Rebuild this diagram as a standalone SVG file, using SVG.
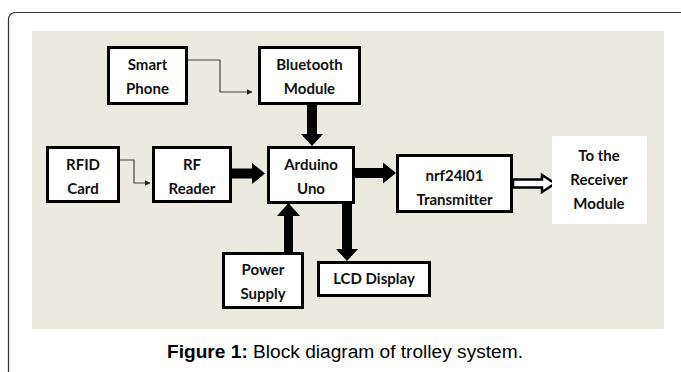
<svg xmlns="http://www.w3.org/2000/svg" width="681" height="372" viewBox="0 0 681 372">
<style>
.box{fill:#fff;stroke:#000;stroke-width:3}
.t{font-family:Lato,"Open Sans","Liberation Sans",sans-serif;font-weight:bold;font-size:15px;fill:#111;text-anchor:middle}
.thin{fill:none;stroke:#444;stroke-width:1.2}
.thick{fill:#000;stroke:none}
.cap{font-family:"Liberation Sans",Arial,sans-serif;font-size:18px;fill:#000;text-anchor:middle}
</style>
<defs>
<marker id="ah" viewBox="0 0 10 10" refX="9" refY="5" markerWidth="6" markerHeight="6" orient="auto" markerUnits="userSpaceOnUse">
<path d="M0,0 L10,5 L0,10 z" fill="#222"/>
</marker>
</defs>
<rect x="0" y="0" width="681" height="372" fill="#fff"/>
<path d="M8.5,372 V20 Q8.5,12.5 16,12.5 H681" fill="none" stroke="#333" stroke-width="1.2"/>
<rect x="32" y="31" width="632" height="298" fill="#ece9e0"/>

<g id="connectors">
<path class="thin" d="M188,60 H220 V92 H252" marker-end="url(#ah)"/>
<path class="thin" d="M120,160 H134 V183 H150" marker-end="url(#ah)"/>
<polygon class="thick" points="307,105 317,105 317,134 323,134 312,146 301,134 307,134"/>
<polygon class="thick" points="232,168.5 252,168.5 252,163 265,173.5 252,184 252,178.5 232,178.5"/>
<polygon class="thick" points="355,168 383,168 383,162.5 396,173 383,183.5 383,178 355,178"/>
<polygon class="thick" points="284,252 293,252 293,216 300,216 288.5,203 277,216 284,216"/>
<polygon class="thick" points="342,203 352,203 352,249 358,249 347,261 336,249 342,249"/>
<polygon points="513,179.5 542,179.5 542,175 555,183.5 542,192 542,187.5 513,187.5" fill="#fff" stroke="#000" stroke-width="2.5" stroke-linejoin="miter"/>
</g>

<g id="smartphone">
<rect class="box" x="108.5" y="47.5" width="78" height="56"/>
<text class="t" x="147.5" y="70">Smart</text>
<text class="t" x="147.5" y="94">Phone</text>
</g>
<g id="bluetooth">
<rect class="box" x="259.5" y="47.5" width="100" height="56"/>
<text class="t" x="309.5" y="70">Bluetooth</text>
<text class="t" x="309.5" y="94">Module</text>
</g>
<g id="rfid">
<rect class="box" x="47.5" y="147.5" width="71" height="54"/>
<text class="t" x="83" y="170">RFID</text>
<text class="t" x="83" y="194">Card</text>
</g>
<g id="rfreader">
<rect class="box" x="153.5" y="147.5" width="77" height="54"/>
<text class="t" x="192" y="170">RF</text>
<text class="t" x="192" y="194">Reader</text>
</g>
<g id="arduino">
<rect class="box" x="268.5" y="147.5" width="85" height="55"/>
<text class="t" x="311" y="170">Arduino</text>
<text class="t" x="311" y="194">Uno</text>
</g>
<g id="nrf">
<rect class="box" x="397.5" y="155.5" width="114" height="56"/>
<text class="t" x="454.5" y="181">nrf24l01</text>
<text class="t" x="454.5" y="205">Transmitter</text>
</g>
<g id="receiver">
<rect x="552" y="136" width="95" height="88" fill="#fff"/>
<text class="t" x="599" y="161">To the</text>
<text class="t" x="599" y="185">Receiver</text>
<text class="t" x="599" y="209">Module</text>
</g>
<g id="power">
<rect class="box" x="223.5" y="253.5" width="79" height="54"/>
<text class="t" x="263" y="275">Power</text>
<text class="t" x="263" y="299">Supply</text>
</g>
<g id="lcd">
<rect class="box" x="318.5" y="262.5" width="111" height="33"/>
<text class="t" x="374" y="284">LCD Display</text>
</g>

<text class="cap" x="345" y="358" textLength="356" lengthAdjust="spacingAndGlyphs"><tspan font-weight="bold">Figure 1:</tspan> Block diagram of trolley system.</text>
</svg>
